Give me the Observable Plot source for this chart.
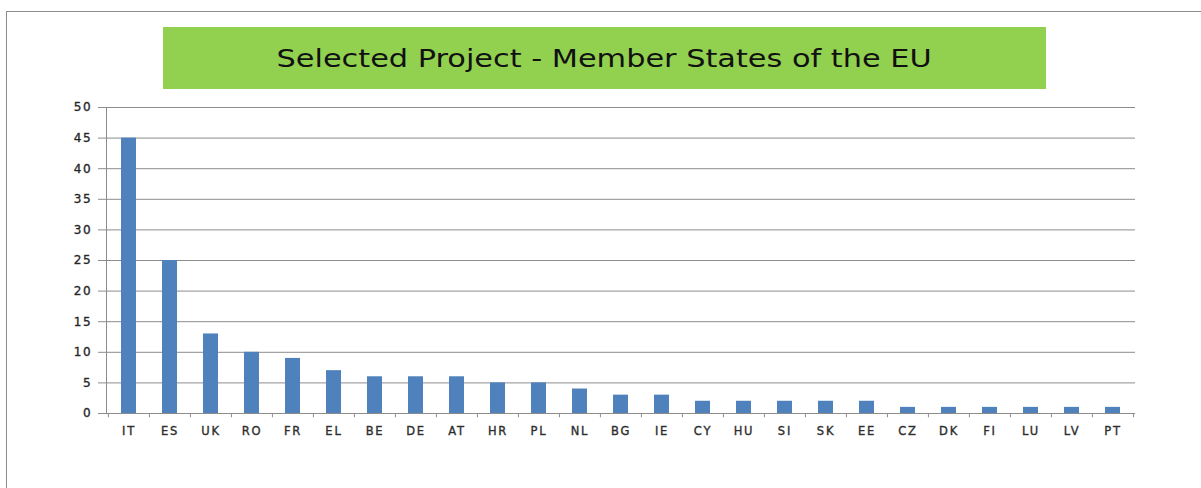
<!DOCTYPE html>
<html>
<head>
<meta charset="utf-8">
<script src="https://cdn.jsdelivr.net/npm/d3@7"></script>
<script src="https://cdn.jsdelivr.net/npm/@observablehq/plot@0.6"></script>
<style>
  html, body { margin: 0; padding: 0; background: #fff; overflow: hidden; }
  #wrap { position: relative; width: 1201px; height: 488px; }
  #border { position: absolute; left: 6px; top: 11px; width: 1300px; height: 600px;
            border-left: 1px solid #8c8c8c; border-top: 1px solid #8c8c8c; }
  #title { position: absolute; left: 163px; top: 27px; width: 883px; height: 62px;
           background: #92D050; color: #111; font-family: "DejaVu Sans", sans-serif;
           font-size: 24px; line-height: 64px; text-align: center; white-space: nowrap; }
  #titleText { display: inline-block; transform-origin: center; }
  #chart { position: absolute; left: 0; top: 0; }
  #chart svg text { letter-spacing: 1.8px; stroke: #333; stroke-width: 0.35px; }
</style>
</head>
<body>
<div id="wrap">
  <div id="border"></div>
  <div id="chart"></div>
  <div id="title"><span id="titleText">Selected Project - Member States of the EU</span></div>
</div>
<script>
const countries = ["IT","ES","UK","RO","FR","EL","BE","DE","AT","HR","PL","NL","BG","IE","CY","HU","SI","SK","EE","CZ","DK","FI","LU","LV","PT"];
const projects  = [45,25,13,10,9,7,6,6,6,5,5,4,3,3,2,2,2,2,2,1,1,1,1,1,1];
const yTicks = [0,5,10,15,20,25,30,35,40,45,50];

const data = countries.map((c, i) => ({country: c, value: projects[i]}));

const W = 1201, H = 488;
const mL = 106, mR = 66, mT = 107, mB = 75;
const step = (W - mL - mR) / countries.length;

const chart = Plot.plot({
  width: W, height: H,
  marginLeft: mL, marginRight: mR, marginTop: mT, marginBottom: mB,
  style: {fontFamily: "'DejaVu Sans', sans-serif", background: "transparent"},
  x: {domain: countries, paddingInner: 0.64, paddingOuter: 0.32, label: null},
  y: {domain: [0, 50], label: null},
  marks: [
    Plot.ruleY(yTicks.filter(d => d > 0), {stroke: "#8c8c8c", strokeWidth: 1}),
    Plot.barY(data, {x: "country", y: "value", fill: "#4F81BD"}),
    Plot.ruleY([0], {stroke: "#8c8c8c"}),
    Plot.frame({anchor: "left", stroke: "#8c8c8c"}),
    Plot.ruleX(countries, {x: d => d, y1: 0, y2: -0.7, dx: -step / 2, stroke: "#8c8c8c"}),
    Plot.ruleX([countries[countries.length - 1]], {x: d => d, y1: 0, y2: -0.7, dx: step / 2, stroke: "#8c8c8c"}),
    Plot.axisY({ticks: yTicks, tickSize: 8, tickPadding: 6, stroke: "#8c8c8c", fontSize: 12, color: "#1a1a1a", label: null}),
    Plot.axisX({tickSize: 0, tickPadding: 13, fontSize: 11.5, color: "#2a2a2a", label: null})
  ]
});
document.getElementById("chart").appendChild(chart);

// widen the title to the reference's width (about 655px)
const span = document.getElementById("titleText");
const w = span.getBoundingClientRect().width;
span.style.transform = "scaleX(" + (655 / w) + ")";
</script>
</body>
</html>
